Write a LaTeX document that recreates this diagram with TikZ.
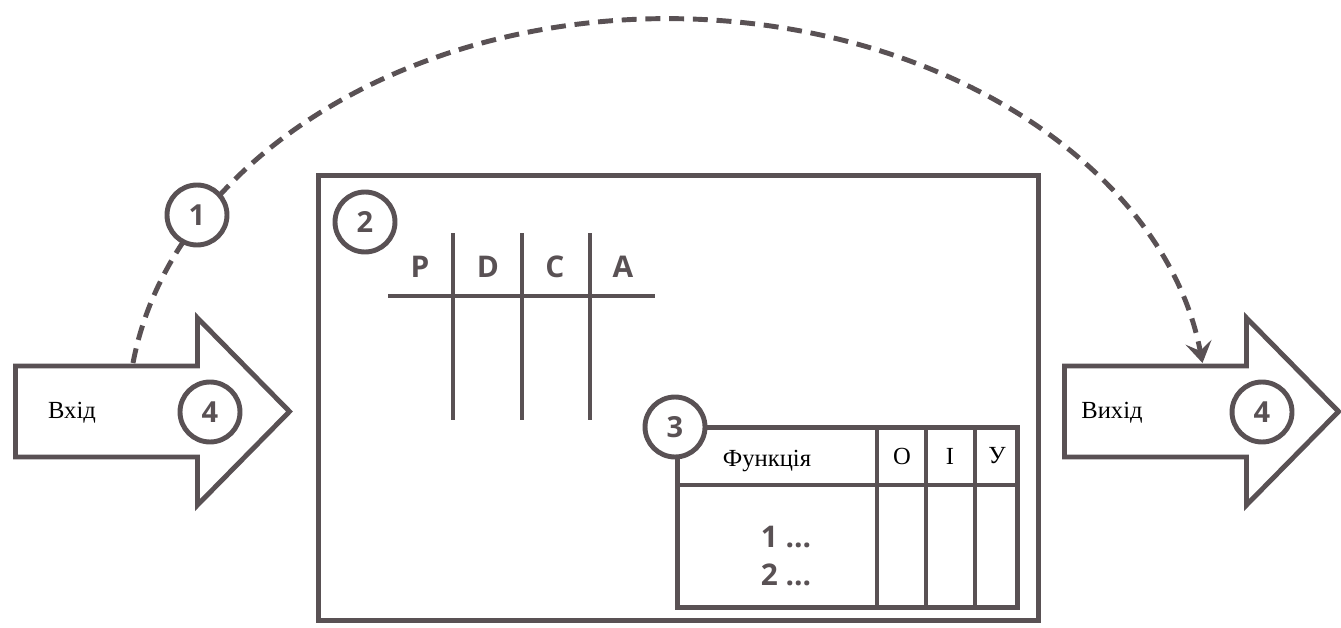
\documentclass[tikz,border=0pt]{standalone}
\usepackage{fontspec}
\setmainfont{Liberation Serif}
\newfontfamily\numfont{Open Sans}
\usetikzlibrary{arrows.meta,calc,positioning}
\definecolor{mode1}{RGB}{89,81,84}

\begin{document}
\begin{tikzpicture}[x=0.02cm, y=-0.02cm, line width=2.8pt,
  num/.style={circle, draw=mode1, fill=white, line width=2.8pt, minimum size=1.2cm,
    inner sep=0pt, text=mode1, font=\numfont\bfseries\fontsize{16.5}{16.5}\selectfont},
  letter/.style={text=mode1, font=\numfont\bfseries\fontsize{17}{17}\selectfont},
  word/.style={text=black, font=\fontsize{14}{16}\selectfont},
  frame/.style={draw=mode1, line width=2.8pt, line join=miter},
  flow/.style={draw=mode1, line width=2.8pt, dash pattern=on 8.5pt off 5pt,
    -{Stealth[length=12pt, width=15pt, inset=5pt]}}]
\useasboundingbox (0,0) rectangle (1341,628);

% input / output arrows
\foreach \dx/\nm/\txt/\tx/\cx in {0/in/Вхід/72/210, 1049/out/Вихід/1112/1262}{
  \draw[frame] (15.5+\dx,366) -- (197.5+\dx,366) -- (197.5+\dx,318) -- (289.5+\dx,411.5)
    -- (197.5+\dx,505) -- (197.5+\dx,457) -- (15.5+\dx,457) -- cycle;
  \node[word] (\nm label) at (\tx,413) {\txt};
  \node[num] (\nm num) at (\cx,412) {4};
}
\coordinate (in top) at (133,363);
\coordinate (out top) at (1202,363);

% feedback loop over the box
\draw[flow] (in top) arc[start angle=188, end angle=352, x radius=540, y radius=400];
\node[num] (loop num) at (197,215) {1};

% process box
\draw[frame] (318.5,175.5) rectangle (1038.5,620.5);
\node[num] (box num) at (365,222) {2};

% PDCA columns
\draw[frame] (388,296) -- (655,296);
\foreach \x in {453,522,590}{
  \draw[frame] (\x,233) -- (\x,420);
}
\foreach \x/\l in {420/P,488/D,555/C,623/A}{
  \node[letter] (pdca \l) at (\x,267) {\l};
}

% responsibility table
\draw[frame] (677.5,427.5) rectangle (1017.5,607.5);
\draw[frame] (677.5,485) -- (1017.5,485);
\foreach \x in {877,926,975}{
  \draw[frame] (\x,427.5) -- (\x,607.5);
}
\node[word] (func) at (767,461) {Функція};
\foreach \x/\l in {902/О,950/І,997/У}{
  \node[word] (col \l) at (\x,456) {\l};
}
\node[letter] (item one) at (786,537) {1 ...};
\node[letter] (item two) at (786,575) {2 ...};
\node[num] (table num) at (675,427) {3};
\end{tikzpicture}
\end{document}
